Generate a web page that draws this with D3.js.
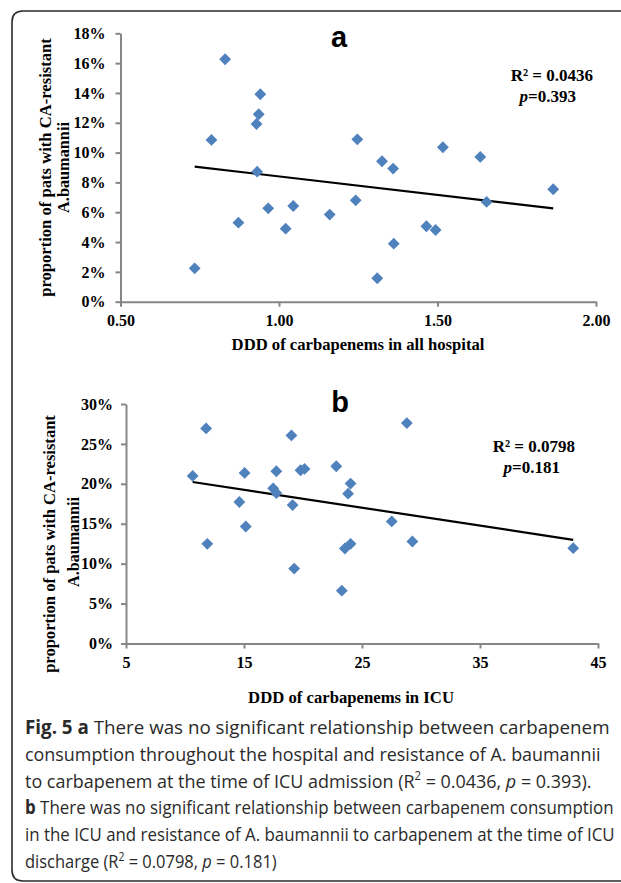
<!DOCTYPE html>
<html>
<head>
<meta charset="utf-8">
<script src="https://cdn.jsdelivr.net/npm/d3@7"></script>
<style>
  html, body { margin: 0; padding: 0; background: #fff; }
  svg { display: block; }
</style>
</head>
<body>
<script>
// ---------------- DATA ----------------
// Panel a: DDD of carbapenems in all hospital vs proportion (%)
const aX = [0.734, 0.787, 0.830, 0.872, 0.929, 0.936, 0.941, 0.931, 0.966, 1.021, 1.045, 1.160,
            1.242, 1.247, 1.310, 1.325, 1.360, 1.362, 1.465, 1.494, 1.517, 1.635, 1.655, 1.865];
const aY = [2.24, 10.85, 16.26, 5.30, 11.92, 12.57, 13.91, 8.72, 6.26, 4.90, 6.42, 5.84,
            6.80, 10.89, 1.57, 9.42, 8.93, 3.89, 5.06, 4.81, 10.36, 9.71, 6.69, 7.54];
const aTrendX = [0.734, 1.865];
const aTrendY = [9.06, 6.26];
const aXTicks = [0.5, 1.0, 1.5, 2.0];
const aYTicks = [0, 2, 4, 6, 8, 10, 12, 14, 16, 18];
const aStats = ["R² = 0.0436", "0.393"];

// Panel b: DDD of carbapenems in ICU vs proportion (%)
const bX = [10.65, 11.79, 11.89, 14.61, 15.05, 15.15, 17.47, 17.74, 17.74, 19.02, 19.12, 19.25,
            19.79, 20.13, 22.82, 23.29, 23.55, 23.82, 24.03, 24.03, 27.52, 28.80, 29.27, 42.9];
const bY = [20.99, 26.94, 12.48, 17.72, 21.37, 14.66, 19.44, 18.85, 21.58, 26.06, 17.34, 9.38,
            21.70, 21.87, 22.20, 6.62, 11.90, 18.77, 20.03, 12.48, 15.29, 27.61, 12.78, 11.94];
const bTrendX = [10.65, 42.9];
const bTrendY = [20.23, 12.99];
const bXTicks = [5, 15, 25, 35, 45];
const bYTicks = [0, 5, 10, 15, 20, 25, 30];
const bStats = ["R² = 0.0798", "0.181"];

const yTitle = ["proportion of pats with CA-resistant", "A.baumannii"];
const aXTitle = "DDD of carbapenems in all hospital";
const bXTitle = "DDD of carbapenems in ICU";

// ---------------- DRAWING ----------------
const W = 621, H = 883;
const SERIF = "'Liberation Serif', 'Times New Roman', serif";
const SANS = "'Liberation Sans', Arial, sans-serif";
const BLUE = "#4F81BD";
const AXIS = "#868686";

const svg = d3.select("body").append("svg")
  .attr("width", W).attr("height", H)
  .attr("viewBox", `0 0 ${W} ${H}`);

// outer frame (rounded, open to the right)
const r = 11, L = 12, T = 11, B = 881;
svg.append("path")
  .attr("d", `M${W + 5},${T} L${L + r},${T} Q${L},${T} ${L},${T + r} L${L},${B - r} Q${L},${B} ${L + r},${B} L${W + 5},${B}`)
  .attr("fill", "none").attr("stroke", "#2b2b2b").attr("stroke-width", 1.6);

// scale a text element horizontally so that it spans `width` px
function fitWidth(sel, width) {
  const w = sel.node().getComputedTextLength();
  return w > 0 ? width / w : 1;
}

function panel(cfg) {
  const g = svg.append("g");
  const x = d3.scaleLinear().domain(cfg.xDomain).range([cfg.x0, cfg.x1]);
  const y = d3.scaleLinear().domain(cfg.yDomain).range([cfg.y0, cfg.y1]);

  const yAxis = d3.axisLeft(y).tickValues(cfg.yTicks).tickFormat(d => d + "%")
    .tickSize(5).tickSizeOuter(0).tickPadding(cfg.yPad);
  const xAxis = d3.axisBottom(x).tickValues(cfg.xTicks).tickFormat(cfg.xFmt)
    .tickSize(5).tickSizeOuter(0).tickPadding(8);

  const ya = g.append("g").attr("transform", `translate(${cfg.x0},0)`).call(yAxis);
  const xa = g.append("g").attr("transform", `translate(0,${cfg.y0})`).call(xAxis);
  [ya, xa].forEach(a => {
    a.select(".domain").attr("stroke", AXIS).attr("stroke-width", 2);
    a.selectAll(".tick line").attr("stroke", AXIS).attr("stroke-width", 2);
    a.selectAll(".tick text").attr("fill", "#000")
      .style("font-family", SERIF).style("font-weight", "bold").style("font-size", "16px");
  });

  // trend line
  const line = d3.line().x(d => x(d[0])).y(d => y(d[1]));
  g.append("path").datum(d3.zip(cfg.trendX, cfg.trendY))
    .attr("d", line).attr("fill", "none").attr("stroke", "#000").attr("stroke-width", 2.2);

  // points (diamonds)
  const sym = d3.symbol().type(d3.symbolSquare).size(70);
  g.selectAll("path.pt").data(d3.zip(cfg.xs, cfg.ys)).join("path")
    .attr("class", "pt")
    .attr("d", sym)
    .attr("transform", d => `translate(${x(d[0])},${y(d[1])}) rotate(45)`)
    .attr("fill", BLUE);

  // panel letter
  g.append("text").attr("x", cfg.letterX).attr("y", cfg.letterY)
    .attr("text-anchor", "middle")
    .style("font-family", SANS).style("font-weight", "bold").style("font-size", "29px")
    .text(cfg.letter);

  // stats
  g.append("text").attr("x", cfg.statX1).attr("y", cfg.statY1).attr("text-anchor", "end")
    .style("font-family", SERIF).style("font-weight", "bold").style("font-size", "17px")
    .text(cfg.stats[0]);
  const pt = g.append("text").attr("x", cfg.statX2).attr("y", cfg.statY2).attr("text-anchor", "end")
    .style("font-family", SERIF).style("font-weight", "bold").style("font-size", "17px");
  pt.append("tspan").style("font-style", "italic").text("p");
  pt.append("tspan").text("=" + cfg.stats[1]);

  // x title
  const xt = g.append("text")
    .attr("text-anchor", "middle")
    .style("font-family", SERIF).style("font-weight", "bold").style("font-size", "16px")
    .text(cfg.xTitle);
  const sx = fitWidth(xt, cfg.xTitleW);
  xt.attr("transform", `translate(${cfg.xTitleX},${cfg.xTitleY}) scale(${sx},1)`);

  // y title (two lines)
  cfg.yTitleLines.forEach((t, i) => {
    const yt = g.append("text").attr("text-anchor", "middle")
      .style("font-family", SERIF).style("font-weight", "bold").style("font-size", "16.5px")
      .text(t);
    const s = fitWidth(yt, cfg.yTitleW[i]);
    yt.attr("transform", `translate(${cfg.yTitleX[i]},${cfg.yTitleY[i]}) rotate(-90) scale(${s},1)`);
  });
}

panel({
  xs: aX, ys: aY, trendX: aTrendX, trendY: aTrendY,
  xDomain: [0.5, 2.0], yDomain: [0, 18],
  x0: 120.5, x1: 596, y0: 301.7, y1: 33.3,
  xTicks: aXTicks, yTicks: aYTicks, xFmt: d3.format(".2f"), yPad: 10,
  letter: "a", letterX: 339, letterY: 47,
  stats: aStats, statX1: 593, statY1: 81, statX2: 576, statY2: 102,
  xTitle: aXTitle, xTitleX: 358, xTitleY: 350, xTitleW: 253,
  yTitleLines: yTitle, yTitleX: [51, 68.5], yTitleY: [167.5, 167.5], yTitleW: [259, 91]
});

panel({
  xs: bX, ys: bY, trendX: bTrendX, trendY: bTrendY,
  xDomain: [5, 45], yDomain: [0, 30],
  x0: 126, x1: 598, y0: 643.5, y1: 404,
  xTicks: bXTicks, yTicks: bYTicks, xFmt: d3.format("d"), yPad: 8,
  letter: "b", letterX: 340, letterY: 412,
  stats: bStats, statX1: 575, statY1: 452, statX2: 560, statY2: 473,
  xTitle: bXTitle, xTitleX: 351, xTitleY: 703, xTitleW: 206,
  yTitleLines: yTitle, yTitleX: [55, 78.5], yTitleY: [544, 542], yTitleW: [258, 90]
});

// ---------------- CAPTION ----------------
const captionLines = [
  [["Fig. 5 a", "b"], [" There was no significant relationship between carbapenem", ""]],
  [["consumption throughout the hospital and resistance of A. baumannii", ""]],
  [["to carbapenem at the time of ICU admission (R", ""], ["2", "sup"], [" = 0.0436, ", ""], ["p", "i"], [" = 0.393).", ""]],
  [["b", "b"], [" There was no significant relationship between carbapenem consumption", ""]],
  [["in the ICU and resistance of A. baumannii to carbapenem at the time of ICU", ""]],
  [["discharge (R", ""], ["2", "sup"], [" = 0.0798, ", ""], ["p", "i"], [" = 0.181)", ""]]
];
const captionEnds = [610, 601, 592, 614, 615, 277];
const capX = 25, capY0 = 734, capDY = 26.8;

captionLines.forEach((parts, i) => {
  const t = svg.append("text")
    .style("font-family", "'Open Sans', 'Noto Sans', sans-serif")
    .style("font-size", "19px").attr("fill", "#2a2a2a");
  parts.forEach(p => {
    const ts = t.append("tspan").text(p[0]);
    if (p[1] === "b") ts.style("font-weight", "bold");
    if (p[1] === "i") ts.style("font-style", "italic");
    if (p[1] === "sup") ts.attr("baseline-shift", "super").style("font-size", "12px");
  });
  const w = t.node().getComputedTextLength();
  const s = (captionEnds[i] - capX) / w;
  t.attr("transform", `translate(${capX},${capY0 + i * capDY}) scale(${s},1)`);
});
</script>
</body>
</html>
